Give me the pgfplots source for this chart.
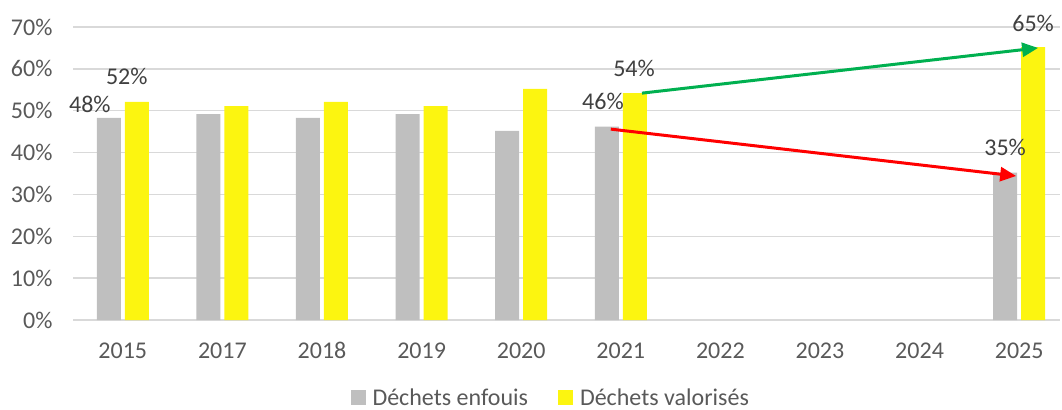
\documentclass[border=0pt]{standalone}
\usepackage{pgfplots}
\pgfplotsset{compat=1.18}
\usepackage{fontspec}
\setmainfont{Carlito}
\usetikzlibrary{arrows.meta}
\definecolor{bargray}{HTML}{BFBFBF}
\definecolor{baryellow}{HTML}{FCF510}
\definecolor{gridgray}{HTML}{D9D9D9}
\definecolor{ticktext}{HTML}{595959}
\definecolor{labeltext}{HTML}{404040}
\definecolor{arrgreen}{HTML}{00B050}
\definecolor{arrred}{HTML}{FF0000}
\begin{document}
\begin{tikzpicture}
\begin{axis}[
  at={(0,0)}, anchor=south west,
  width=987bp, height=293bp, scale only axis,
  xmin=-0.5, xmax=9.41, ymin=0, ymax=70,
  xtick={0,1,2,3,4,5,6,7,8,9},
  xticklabels={2015,2017,2018,2019,2020,2021,2022,2023,2024,2025},
  ytick={0,10,...,70},
  yticklabel={\pgfmathprintnumber{\tick}\%},
  /pgf/number format/assume math mode=true,
  axis line style={draw=none},
  major tick length=0pt,
  ymajorgrids,
  grid style={gridgray, line width=1.3bp},
  tick label style={font=\fontsize{24bp}{28bp}\selectfont, text=ticktext},
  yticklabel style={xshift=-17bp},
  xticklabel style={anchor=center, text height=16bp, text depth=0bp, yshift=-30bp},
  clip=false,
  legend columns=2,
  legend style={draw=none, fill=none, at={(0.484,-0.265)}, anchor=center,
    font=\fontsize{24bp}{28bp}\selectfont, text=ticktext,
    /tikz/every odd column/.append style={column sep=5bp},
    /tikz/every even column/.append style={column sep=28bp},
    inner sep=0pt},
  legend image code/.code={\fill[#1] (0bp,-7bp) rectangle (15bp,8bp);},
]
\addplot[ybar, bar width=24bp, bar shift=-14bp, fill=bargray, draw=none]
  coordinates {(0,48.3) (1,49.2) (2,48.3) (3,49.2) (4,45.2) (5,46.2) (9,35.2)};
\addlegendentry{Déchets enfouis}
\addplot[ybar, bar width=24bp, bar shift=14bp, fill=baryellow, draw=none]
  coordinates {(0,52.1) (1,51.1) (2,52.1) (3,51.1) (4,55.2) (5,54.2) (9,65.2)};
\addlegendentry{Déchets valorisés}
\addplot[arrgreen, line width=3bp, -{Triangle[length=16bp,width=14bp]}, forget plot]
  coordinates {(5.213,54.2) (9.19,65.0)};
\addplot[arrred, line width=3bp, -{Triangle[length=16bp,width=14bp]}, forget plot]
  coordinates {(4.90,45.6) (8.97,34.4)};
\begin{scope}[every node/.style={font=\fontsize{24bp}{28bp}\selectfont, text=labeltext, inner sep=0pt}]
\node at (axis cs:-0.331,51.6) {48\%};
\node at (axis cs:0.040,58.3) {52\%};
\node at (axis cs:4.821,52.3) {46\%};
\node at (axis cs:5.133,60.2) {54\%};
\node at (axis cs:8.859,41.3) {35\%};
\node at (axis cs:9.14,70.95) {65\%};
\end{scope}
\end{axis}
\pgfresetboundingbox
\path[use as bounding box] (-73bp,-90bp) rectangle (989bp,320bp);
\end{tikzpicture}
\end{document}
